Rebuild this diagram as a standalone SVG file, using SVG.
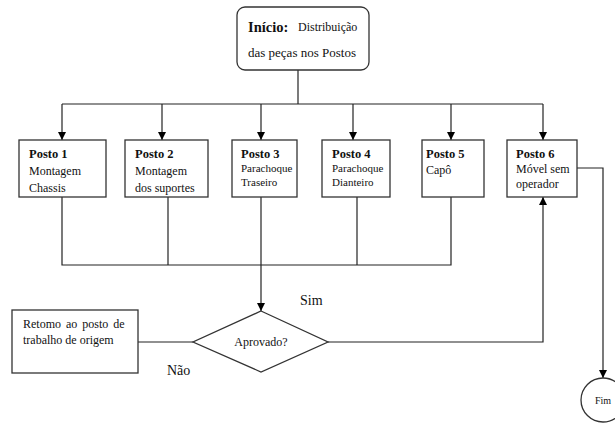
<svg xmlns="http://www.w3.org/2000/svg" width="615" height="430" viewBox="0 0 615 430" font-family="'Liberation Serif', 'DejaVu Serif', serif">
<defs>
<marker id="ah" viewBox="0 0 10 10" refX="10" refY="5" markerWidth="8" markerHeight="8" orient="auto" markerUnits="userSpaceOnUse">
<path d="M0,0 L10,5 L0,10 z" fill="#000"/>
</marker>
<style>
.b{fill:#fff;stroke:#333;stroke-width:1.3}
.c{fill:none;stroke:#222;stroke-width:1.2}
.ca{fill:none;stroke:#222;stroke-width:1.2;marker-end:url(#ah)}
text{font-family:'Liberation Serif','DejaVu Serif',serif;fill:#111}
.t{font-size:12px}
.h{font-size:12.5px;font-weight:bold}
.s{font-size:11px}
</style>
</defs>
<rect width="615" height="430" fill="#fff"/>
<g id="connectors">
<line class="c" x1="298" y1="70" x2="298" y2="104"/>
<line class="c" x1="62" y1="104" x2="543" y2="104"/>
<line class="ca" x1="62" y1="104" x2="62" y2="140"/>
<line class="ca" x1="162" y1="104" x2="162" y2="140"/>
<line class="ca" x1="261" y1="104" x2="261" y2="140"/>
<line class="ca" x1="353" y1="104" x2="353" y2="140"/>
<line class="ca" x1="451" y1="104" x2="451" y2="140"/>
<line class="ca" x1="543" y1="104" x2="543" y2="140"/>
<polyline class="c" points="62,197 62,265 451,265 451,197"/>
<line class="c" x1="168" y1="197" x2="168" y2="265"/>
<line class="c" x1="357" y1="197" x2="357" y2="265"/>
<line class="ca" x1="261" y1="197" x2="261" y2="311"/>
<line class="c" x1="138" y1="342" x2="193" y2="342"/>
<polyline class="ca" points="328,342 543,342 543,197"/>
<polyline class="ca" points="577,168 603,168 603,378"/>
</g>
<g id="inicio">
<rect class="b" x="237" y="7" width="132" height="63" rx="8"/>
<text x="248" y="32" style="font-size:14.5px;font-weight:bold">Início:</text>
<text x="298" y="31" style="font-size:12px">Distribuição</text>
<text x="248" y="57" style="font-size:13px">das peças nos Postos</text>
</g>
<g id="posto1">
<rect class="b" x="19" y="140" width="87" height="57"/>
<text x="29" y="158" class="h">Posto 1</text>
<text x="29" y="175" class="t">Montagem</text>
<text x="29" y="192" class="t">Chassis</text>
</g>
<g id="posto2">
<rect class="b" x="125" y="140" width="83" height="57"/>
<text x="135" y="158" class="h">Posto 2</text>
<text x="135" y="175" class="t">Montagem</text>
<text x="135" y="192" class="t">dos suportes</text>
</g>
<g id="posto3">
<rect class="b" x="232" y="140" width="65" height="57"/>
<text x="241" y="158" class="h">Posto 3</text>
<text x="241" y="172" class="s">Parachoque</text>
<text x="241" y="186" class="s">Traseiro</text>
</g>
<g id="posto4">
<rect class="b" x="322" y="140" width="68" height="57"/>
<text x="332" y="158" class="h">Posto 4</text>
<text x="332" y="172" class="s">Parachoque</text>
<text x="332" y="186" class="s">Dianteiro</text>
</g>
<g id="posto5">
<rect class="b" x="422" y="140" width="62" height="57"/>
<text x="426" y="158" class="h">Posto 5</text>
<text x="426" y="174" class="t">Capô</text>
</g>
<g id="posto6">
<rect class="b" x="507" y="140" width="70" height="57"/>
<text x="516" y="158" class="h">Posto 6</text>
<text x="516" y="173" class="t">Móvel sem</text>
<text x="516" y="188" class="t">operador</text>
</g>
<g id="aprovado">
<polygon class="b" points="261,311 328,342 261,372 193,342"/>
<text x="261" y="346" text-anchor="middle" style="font-size:12px">Aprovado?</text>
</g>
<g id="retorno">
<rect class="b" x="12" y="310" width="126" height="63"/>
<text x="23" y="328" class="t" style="word-spacing:2px">Retomo ao posto de</text>
<text x="23" y="344" class="t">trabalho de origem</text>
</g>
<g id="fim">
<circle class="b" cx="603" cy="400" r="22"/>
<text x="603" y="404" text-anchor="middle" style="font-size:10px">Fim</text>
</g>
<g id="labels">
<text x="300" y="305" style="font-size:14px">Sim</text>
<text x="167" y="375" style="font-size:14px">Não</text>
</g>
</svg>
